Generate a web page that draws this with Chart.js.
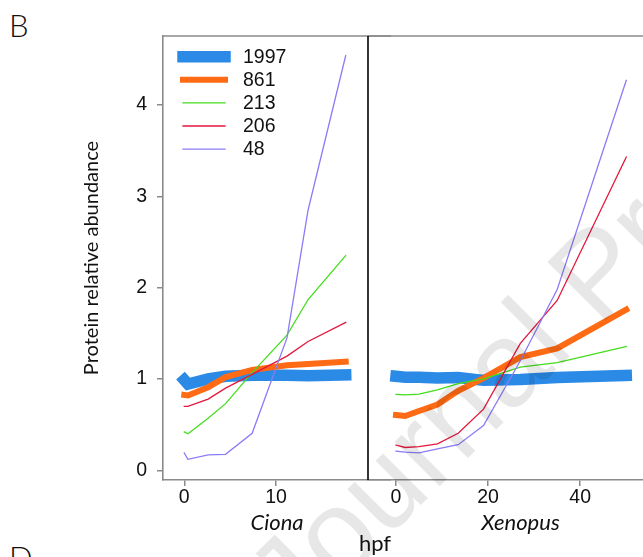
<!DOCTYPE html>
<html>
<head>
<meta charset="utf-8">
<script src="https://cdn.jsdelivr.net/npm/chart.js@4.4.0/dist/chart.umd.min.js"></script>
<style>
  html, body { margin: 0; padding: 0; background: #fff; }
  body { width: 643px; height: 557px; overflow: hidden; position: relative; }
  canvas { position: absolute; top: 0; left: 0; }
  .txt { position: absolute; color: #111; white-space: nowrap; line-height: 1; }
  #panelB { left: 9px; top: 6px; font: 300 31px Lato, sans-serif; }
  #panelD { left: 9px; top: 538px; font: 300 31px Lato, sans-serif; }
  #hpf { left: 375px; top: 542px; transform: translate(-50%, -50%); font: 22px Lato, sans-serif; }
</style>
</head>
<body>
<div class="txt" id="panelB">B</div>
<div class="txt" id="panelD">D</div>
<canvas id="chartCiona" width="391" height="557"></canvas>
<canvas id="chartXenopus" width="673" height="557"></canvas>
<div class="txt" id="hpf">hpf</div>
<script>
// time points (hpf)
const cionaHpf = [0, 0.4, 2.6, 4.5, 7.4, 11.2, 13.5, 17.6];
const xenopusHpf = [0, 2, 5, 9, 13.5, 19, 27, 35, 50];

// cluster names (number of proteins)
const clusters = ['1997', '861', '213', '206', '48'];

// Ciona profiles
const ciona1997 = [0.99, 0.945, 1.0, 1.03, 1.04, 1.04, 1.035, 1.045];
const ciona861 = [0.825, 0.82, 0.91, 1.02, 1.10, 1.15, 1.165, 1.19];
const ciona213 = [0.42, 0.40, 0.57, 0.73, 1.07, 1.48, 1.87, 2.35];
const ciona206 = [0.70, 0.70, 0.78, 0.90, 1.05, 1.25, 1.41, 1.62];
const ciona48 = [0.19, 0.12, 0.17, 0.175, 0.405, 1.45, 2.85, 4.54];

// Xenopus profiles
const xen1997 = [1.03, 1.02, 1.02, 1.01, 1.015, 0.985, 0.995, 1.015, 1.04];
const xen861 = [0.605, 0.595, 0.65, 0.72, 0.87, 1.01, 1.24, 1.335, 1.76];
const xen213 = [0.83, 0.825, 0.835, 0.88, 0.95, 1.0, 1.13, 1.18, 1.355];
const xen206 = [0.277, 0.25, 0.26, 0.29, 0.405, 0.67, 1.39, 1.86, 3.43];
const xen48 = [0.21, 0.2, 0.19, 0.235, 0.28, 0.49, 1.2, 1.98, 4.27];

// tick labels
const yTicks = [0, 1, 2, 3, 4];
const cionaTicks = [0, 10];
const xenopusTicks = [0, 20, 40];

const colors = ['#2b8ae6', '#ff6a14', '#44dd1c', '#e5173c', '#8a7cf7'];
const widths = [11.5, 6, 1.3, 1.3, 1.3];
const frameGray = '#8a8a8a';

Chart.defaults.font.family = '"Liberation Sans", Arial, sans-serif';
Chart.defaults.color = '#111';

function makeSets(xs, series) {
  return series.map((ys, i) => ({
    label: clusters[i],
    data: xs.map((x, j) => ({ x: x, y: ys[j] })),
    borderColor: colors[i],
    backgroundColor: colors[i],
    borderWidth: widths[i],
    borderCapStyle: 'square',
    borderJoinStyle: 'miter',
    pointRadius: 0,
    tension: 0,
    order: series.length - i   // thick lines underneath
  }));
}

// top border + optional black left border of a panel
const panelFrame = {
  id: 'panelFrame',
  beforeDatasetsDraw(chart, args, opts) {
    const { ctx, chartArea: a } = chart;
    ctx.save();
    ctx.lineWidth = 1.6;
    ctx.strokeStyle = frameGray;
    ctx.beginPath();
    ctx.moveTo(a.left, a.top);
    ctx.lineTo(a.right, a.top);
    ctx.stroke();
    if (opts.leftColor) {
      ctx.strokeStyle = opts.leftColor;
      ctx.beginPath();
      ctx.moveTo(a.left, a.top);
      ctx.lineTo(a.left, a.bottom);
      ctx.stroke();
    }
    ctx.restore();
  }
};

// legend drawn inside the Ciona panel
const insideLegend = {
  id: 'insideLegend',
  afterDatasetsDraw(chart, args, opts) {
    const ctx = chart.ctx;
    ctx.save();
    ctx.font = '19.5px "Liberation Sans", Arial, sans-serif';
    ctx.textBaseline = 'middle';
    ctx.fillStyle = '#111';
    chart.data.datasets.forEach((ds, i) => {
      const y = opts.y0 + i * opts.step;
      ctx.strokeStyle = ds.borderColor;
      ctx.lineWidth = ds.borderWidth;
      ctx.lineCap = 'square';
      ctx.beginPath();
      ctx.moveTo(opts.x1, y);
      ctx.lineTo(opts.x2, y);
      ctx.stroke();
      ctx.fillText(ds.label, opts.textX, y + 1);
    });
    ctx.restore();
  }
};

// "Journal Pre-proof" watermark over both panels
const watermark = {
  id: 'watermark',
  afterDraw(chart) {
    const ctx = chart.ctx;
    ctx.save();
    ctx.translate(297, 629);
    ctx.rotate(-Math.PI / 4);
    ctx.font = '120px "Liberation Sans", Arial, sans-serif';
    ctx.fillStyle = 'rgba(0,0,0,0.095)';
    ctx.fillText('Journal Pre-proof', 0, 0);
    ctx.restore();
  }
};

const yRange = { min: -0.106, max: 4.755 };

function xAxis(min, max, ticks, title) {
  return {
    type: 'linear',
    min: min,
    max: max,
    afterBuildTicks: s => { s.ticks = ticks.map(v => ({ value: v })); },
    afterFit: s => { s.height = 77; },
    grid: { drawOnChartArea: false, tickLength: 6, color: frameGray, lineWidth: 1.5 },
    border: { display: true, color: frameGray, width: 1.6 },
    ticks: { font: { size: 19.5 }, padding: 0, maxRotation: 0 },
    title: {
      display: true,
      text: title,
      font: { family: 'Lato', size: 22, style: 'italic', weight: 'normal' },
      padding: { top: 0, bottom: 21 }
    }
  };
}

new Chart(document.getElementById('chartCiona'), {
  type: 'line',
  data: { datasets: makeSets(cionaHpf, [ciona1997, ciona861, ciona213, ciona206, ciona48]) },
  options: {
    responsive: false,
    animation: false,
    layout: { padding: { top: 36, right: 0, bottom: 0, left: 0 } },
    plugins: {
      legend: { display: false },
      tooltip: { enabled: false },
      panelFrame: {},
      insideLegend: { x1: 183, x2: 225, textX: 243, y0: 56.7, step: 23.1 }
    },
    scales: {
      x: xAxis(-2.32, 22.54, cionaTicks, 'Ciona'),
      y: {
        min: yRange.min,
        max: yRange.max,
        afterBuildTicks: s => { s.ticks = yTicks.map(v => ({ value: v })); },
        afterFit: s => { s.width = 163; },
        grid: { drawOnChartArea: false, tickLength: 6, color: frameGray, lineWidth: 1.5 },
        border: { display: true, color: frameGray, width: 1.6 },
        ticks: { font: { size: 19.5 }, padding: 10 },
        title: {
          display: true,
          text: 'Protein relative abundance',
          font: { family: 'Lato', size: 20 },
          padding: { top: 80, bottom: 0 }
        }
      }
    }
  },
  plugins: [panelFrame, insideLegend]
});

new Chart(document.getElementById('chartXenopus'), {
  type: 'line',
  data: { datasets: makeSets(xenopusHpf, [xen1997, xen861, xen213, xen206, xen48]) },
  options: {
    responsive: false,
    animation: false,
    layout: { padding: { top: 36, right: 0, bottom: 0, left: 368 } },
    plugins: {
      legend: { display: false },
      tooltip: { enabled: false },
      panelFrame: { leftColor: '#000' }
    },
    scales: {
      x: xAxis(-6.08, 60.15, xenopusTicks, 'Xenopus'),
      y: { display: false, min: yRange.min, max: yRange.max }
    }
  },
  plugins: [panelFrame, watermark]
});
</script>
</body>
</html>
